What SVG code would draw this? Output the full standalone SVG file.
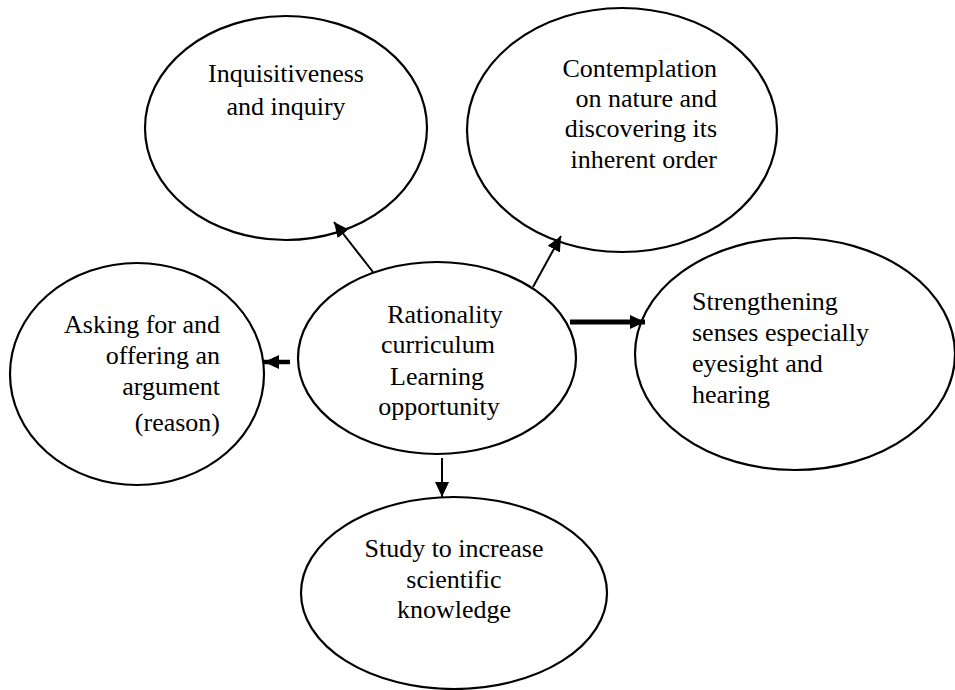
<svg xmlns="http://www.w3.org/2000/svg" width="955" height="690" viewBox="0 0 955 690">
<style>
.node ellipse{fill:#fff;stroke:#000;stroke-width:2.2}
text{font-family:"Liberation Serif","Times New Roman",serif;font-size:26px;fill:#000}
.c{text-anchor:middle}
.e{text-anchor:end}
.conn line{stroke:#000}
</style>
<defs>
<marker id="ah" markerUnits="userSpaceOnUse" markerWidth="15" markerHeight="14" refX="15" refY="7" orient="auto" viewBox="0 0 15 14">
<path d="M0,0 L15,7 L0,14 z" fill="#000"/>
</marker>
</defs>
<rect width="955" height="690" fill="#fff"/>
<g id="n-inquisitiveness" class="node">
<ellipse cx="286" cy="128" rx="141" ry="112"/>
<text class="c" x="286" y="82">Inquisitiveness</text>
<text class="c" x="286" y="115">and inquiry</text>
</g>
<g id="n-contemplation" class="node">
<ellipse cx="622" cy="130" rx="155" ry="122"/>
<text class="e" x="717" y="77">Contemplation</text>
<text class="e" x="717" y="107">on nature and</text>
<text class="e" x="717" y="137">discovering its</text>
<text class="e" x="717" y="168">inherent order</text>
</g>
<g id="n-asking" class="node">
<ellipse cx="137" cy="374" rx="127" ry="111"/>
<text class="e" x="220" y="333">Asking for and</text>
<text class="e" x="220" y="364">offering an</text>
<text class="e" x="220" y="395">argument</text>
<text class="e" x="220" y="431">(reason)</text>
</g>
<g id="n-center" class="node">
<ellipse cx="437" cy="358" rx="139" ry="96"/>
<text class="c" x="445" y="323">Rationality</text>
<text class="c" x="438" y="353">curriculum</text>
<text class="c" x="437" y="385">Learning</text>
<text class="c" x="439" y="415">opportunity</text>
</g>
<g id="n-strengthening" class="node">
<ellipse cx="795" cy="354" rx="160" ry="116"/>
<text x="692" y="310">Strengthening</text>
<text x="692" y="341">senses especially</text>
<text x="692" y="372">eyesight and</text>
<text x="692" y="403">hearing</text>
</g>
<g id="n-study" class="node">
<ellipse cx="454" cy="593" rx="153" ry="96"/>
<text class="c" x="454" y="557">Study to increase</text>
<text class="c" x="454" y="588">scientific</text>
<text class="c" x="454" y="618">knowledge</text>
</g>
<g id="connectors" class="conn">
<line x1="373" y1="272" x2="334" y2="222" stroke-width="2" marker-end="url(#ah)"/>
<line x1="533" y1="287" x2="561" y2="236" stroke-width="2" marker-end="url(#ah)"/>
<line x1="570" y1="322" x2="645" y2="322" stroke-width="5" marker-end="url(#ah)"/>
<line x1="290" y1="362" x2="264" y2="362" stroke-width="4.5" marker-end="url(#ah)"/>
<line x1="442" y1="458" x2="442" y2="497" stroke-width="2" marker-end="url(#ah)"/>
</g>
</svg>
